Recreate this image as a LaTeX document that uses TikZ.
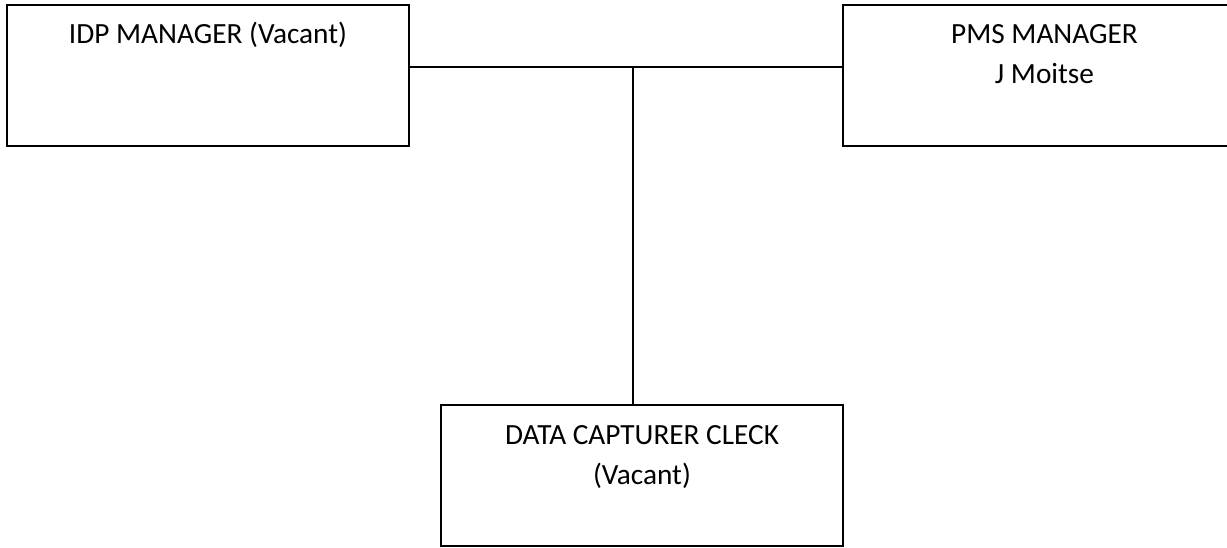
\documentclass[tikz,border=0pt]{standalone}
\usepackage{fontspec}
\setmainfont{Carlito}
\begin{document}
\begin{tikzpicture}[x=1pt, y=-1pt,
  post/.style={draw=black, line width=1.3pt, rectangle, inner sep=0pt},
  title/.style={anchor=base, align=center, inner sep=0pt,
    font=\fontsize{29.3}{40}\selectfont},
  link/.style={draw=black, line width=1.3pt}]
  \useasboundingbox (0,0) rectangle (1227,547);
  \clip (0,0) rectangle (1227,547);

  % position boxes
  \node[post, minimum width=402pt, minimum height=141pt] (idp) at (208,75.5) {};
  \node[post, minimum width=403pt, minimum height=141pt] (pms) at (1044.5,75.5) {};
  \node[post, minimum width=402pt, minimum height=141pt] (data) at (642,475.5) {};

  % titles (base anchor sits on the last line)
  \node[title] (idpT) at (208,43) {IDP MANAGER (Vacant)};
  \node[title] (pmsT) at (1044.5,83) {PMS MANAGER\\J Moitse};
  \node[title] (dataT) at (642,484) {DATA CAPTURER CLECK\\(Vacant)};

  % reporting lines
  \coordinate (j) at (633,67);
  \draw[link] (idp.east |- j) -- (pms.west |- j);
  \draw[link] (j) -- (data.north -| j);
\end{tikzpicture}
\end{document}
